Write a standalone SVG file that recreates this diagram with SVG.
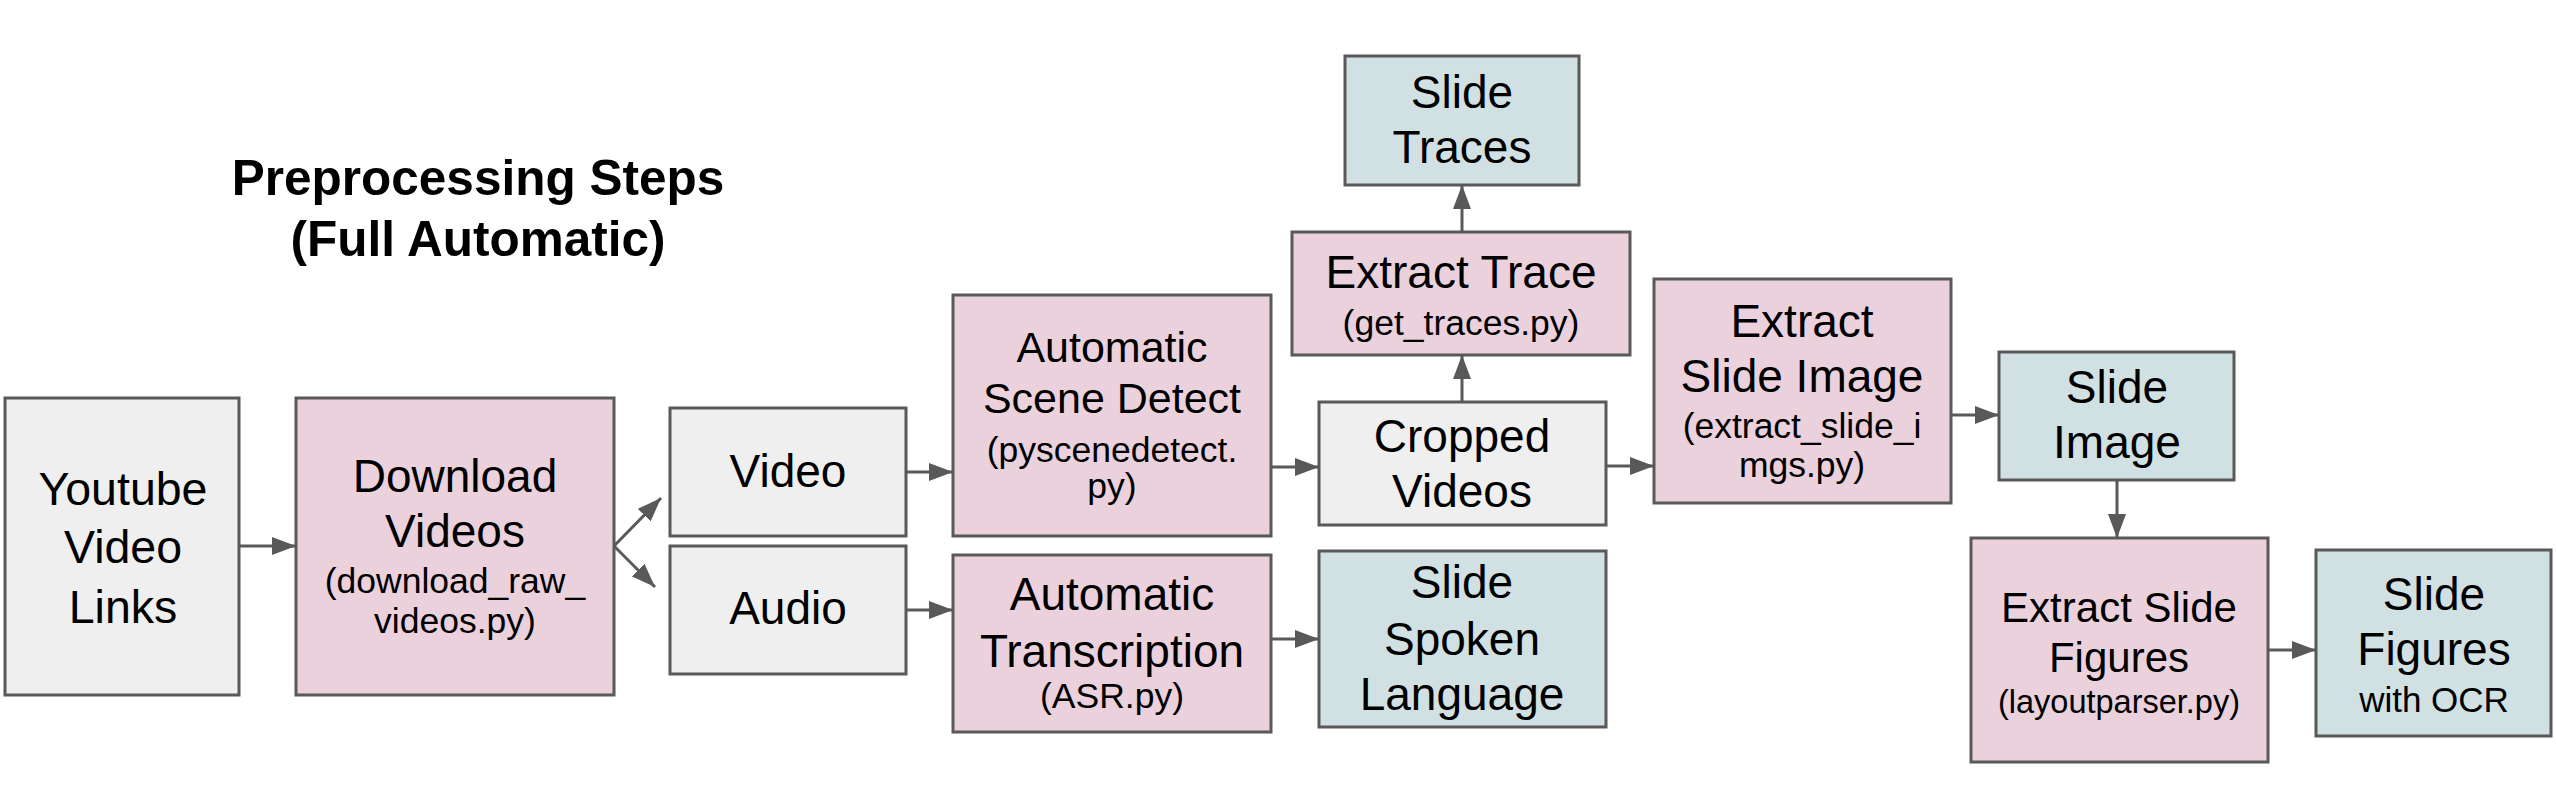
<svg xmlns="http://www.w3.org/2000/svg" width="2556" height="785" viewBox="0 0 2556 785">
<style>
.box{stroke:#595959;stroke-width:3}
.g{fill:#efefef}.p{fill:#ead1dc}.b{fill:#d0e0e3}
text{font-family:"Liberation Sans",Arial,sans-serif;fill:#000;text-anchor:middle}
.m{font-size:46px}.s{font-size:35.5px}
.t{font-size:49.5px;font-weight:bold}
.c{stroke:#595959;stroke-width:3;fill:none;marker-end:url(#ah)}
</style>
<defs>
<marker id="ah" markerUnits="userSpaceOnUse" markerWidth="24" markerHeight="18" refX="24" refY="9" orient="auto" viewBox="0 0 24 18">
<path d="M0,0 L24,9 L0,18 z" fill="#595959"/>
</marker>
</defs>
<rect width="2556" height="785" fill="#fff"/>
<g id="title">
<text class="t" x="478" y="195">Preprocessing Steps</text>
<text class="t" x="478" y="256">(Full Automatic)</text>
</g>
<g id="youtube">
<rect class="box g" x="5" y="398" width="234" height="297"/>
<text class="m" x="123" y="505" style="font-size:46.5px">Youtube</text>
<text class="m" x="123" y="563" style="font-size:46.5px">Video</text>
<text class="m" x="123" y="623" style="font-size:46.5px">Links</text>
</g>
<g id="download">
<rect class="box p" x="296" y="398" width="318" height="297"/>
<text class="m" x="455" y="492">Download</text>
<text class="m" x="455" y="547">Videos</text>
<text class="s" x="455" y="593">(download_raw_</text>
<text class="s" x="455" y="633">videos.py)</text>
</g>
<g id="video">
<rect class="box g" x="670" y="408" width="236" height="128"/>
<text class="m" x="788" y="487">Video</text>
</g>
<g id="audio">
<rect class="box g" x="670" y="546" width="236" height="128"/>
<text class="m" x="788" y="624">Audio</text>
</g>
<g id="scene-detect">
<rect class="box p" x="953" y="295" width="318" height="241"/>
<text x="1112" y="362" style="font-size:43px">Automatic</text>
<text x="1112" y="413" style="font-size:43px">Scene Detect</text>
<text class="s" x="1112" y="462">(pyscenedetect.</text>
<text class="s" x="1112" y="498">py)</text>
</g>
<g id="transcription">
<rect class="box p" x="953" y="555" width="318" height="177"/>
<text class="m" x="1112" y="610">Automatic</text>
<text class="m" x="1112" y="667">Transcription</text>
<text class="s" x="1112" y="708">(ASR.py)</text>
</g>
<g id="slide-traces">
<rect class="box b" x="1345" y="56" width="234" height="129"/>
<text class="m" x="1462" y="108">Slide</text>
<text class="m" x="1462" y="163">Traces</text>
</g>
<g id="extract-trace">
<rect class="box p" x="1292" y="232" width="338" height="123"/>
<text class="m" x="1461" y="288">Extract Trace</text>
<text class="s" x="1461" y="335">(get_traces.py)</text>
</g>
<g id="cropped">
<rect class="box g" x="1319" y="402" width="287" height="123"/>
<text class="m" x="1462" y="452">Cropped</text>
<text class="m" x="1462" y="507">Videos</text>
</g>
<g id="spoken">
<rect class="box b" x="1319" y="551" width="287" height="176"/>
<text class="m" x="1462" y="598">Slide</text>
<text class="m" x="1462" y="655">Spoken</text>
<text class="m" x="1462" y="710">Language</text>
</g>
<g id="extract-image">
<rect class="box p" x="1654" y="279" width="297" height="224"/>
<text class="m" x="1802" y="337">Extract</text>
<text class="m" x="1802" y="392">Slide Image</text>
<text class="s" x="1802" y="438">(extract_slide_i</text>
<text class="s" x="1802" y="477">mgs.py)</text>
</g>
<g id="slide-image">
<rect class="box b" x="1999" y="352" width="235" height="128"/>
<text class="m" x="2117" y="403">Slide</text>
<text class="m" x="2117" y="458">Image</text>
</g>
<g id="extract-figures">
<rect class="box p" x="1971" y="538" width="297" height="224"/>
<text x="2119" y="622" style="font-size:42px">Extract Slide</text>
<text x="2119" y="672" style="font-size:42px">Figures</text>
<text x="2119" y="713" style="font-size:32.5px">(layoutparser.py)</text>
</g>
<g id="slide-figures">
<rect class="box b" x="2316" y="550" width="235" height="186"/>
<text class="m" x="2434" y="610">Slide</text>
<text class="m" x="2434" y="665">Figures</text>
<text x="2434" y="712" style="font-size:35px">with OCR</text>
</g>
<g id="connectors">
<line class="c" x1="239" y1="546" x2="296" y2="546"/>
<line class="c" x1="614" y1="546" x2="661" y2="498"/>
<line class="c" x1="614" y1="546" x2="655" y2="587"/>
<line class="c" x1="906" y1="472" x2="953" y2="472"/>
<line class="c" x1="906" y1="610" x2="953" y2="610"/>
<line class="c" x1="1271" y1="467" x2="1319" y2="467"/>
<line class="c" x1="1271" y1="639" x2="1319" y2="639"/>
<line class="c" x1="1462" y1="402" x2="1462" y2="355"/>
<line class="c" x1="1462" y1="232" x2="1462" y2="185"/>
<line class="c" x1="1606" y1="466" x2="1654" y2="466"/>
<line class="c" x1="1951" y1="415" x2="1999" y2="415"/>
<line class="c" x1="2117" y1="480" x2="2117" y2="538"/>
<line class="c" x1="2268" y1="650" x2="2316" y2="650"/>
</g>
</svg>
